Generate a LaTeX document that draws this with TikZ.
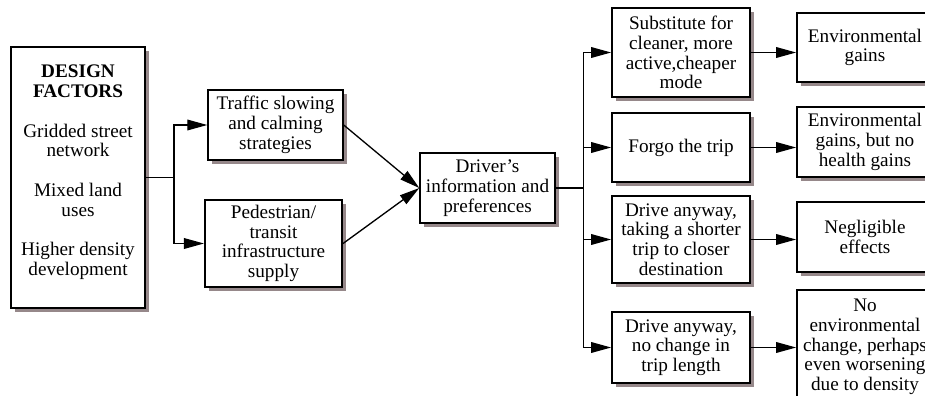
\documentclass[tikz,border=0pt]{standalone}
\usepackage{fontspec}
\setmainfont{Liberation Serif}
\usetikzlibrary{arrows.meta,shadows}
\definecolor{shade}{RGB}{150,136,138}

\begin{document}
\begin{tikzpicture}[x=0.75pt,y=-0.75pt,font=\fontsize{14.4}{14.8}\selectfont,
  blk/.style={draw=black,line width=1.3pt,fill=white,rectangle,align=center,inner sep=1pt,
    drop shadow={shadow xshift=3pt,shadow yshift=-3pt,fill=shade,opacity=1}},
  lnk/.style={line width=1pt,line cap=rect},
  arr/.style={line width=1pt,-{Triangle[length=15pt,width=8pt]}}]
\useasboundingbox (0,0) rectangle (925,396);
\clip (0,0) rectangle (925,396);

\node[blk,minimum width=100.5pt,minimum height=196pt] (F) at (78,177.5) {\textbf{DESIGN}\\\textbf{FACTORS}\\[15pt]Gridded street\\network\\[15pt]Mixed land\\uses\\[15pt]Higher density\\development\\[-4pt]\mbox{}};

\node[blk,minimum width=101pt,minimum height=52.5pt] (T) at (275.5,125) {Traffic slowing\\and calming\\strategies};
\node[blk,minimum width=103pt,minimum height=65pt] (P) at (273.5,243.5) {Pedestrian/\\transit\\infrastructure\\supply};

\node[blk,minimum width=101pt,minimum height=52.5pt] (I) at (487.5,188) {Driver's\\information and\\preferences};

\node[blk,minimum width=103.5pt,minimum height=67pt] (S1) at (681,52.5) {Substitute for\\cleaner, more\\active,cheaper\\mode};
\node[blk,minimum width=103.5pt,minimum height=52pt] (S2) at (681,147.5) {Forgo the trip};
\node[blk,minimum width=103.5pt,minimum height=65pt] (S3) at (681,239.5) {Drive anyway,\\taking a shorter\\trip to closer\\destination};
\node[blk,minimum width=103.5pt,minimum height=53pt] (S4) at (681,347.5) {Drive anyway,\\no change in\\trip length};

\node[blk,minimum width=102pt,minimum height=52pt] (R1) at (865,47.5) {Environmental\\gains};
\node[blk,minimum width=102pt,minimum height=52.5pt] (R2) at (865,142) {Environmental\\gains, but no\\health gains};
\node[blk,minimum width=102pt,minimum height=52.5pt] (R3) at (865,237) {Negligible\\effects};
\node[blk,minimum width=102pt,minimum height=85.5pt] (R4) at (865,347) {No\\environmental\\change, perhaps\\even worsening\\due to density};

\draw[lnk] (F.east) -- ++(28,0) coordinate (f); %F
\draw[lnk] (f |- T.west) -- (f |- P.west);
\draw[arr] (f |- T.west) -- (T.west); %FT
\draw[arr] (f |- P.west) -- (P.west); %FP
\draw[arr] (T.east) -- (I.west); %TI
\draw[arr] (P.east) -- (I.west); %PI

\draw[lnk] (I.east) -- ++(28,0) coordinate (i); %I
\draw[lnk] (i |- S1.west) -- (i |- S4.west);
\draw[arr] (i |- S1.west) -- (S1.west); %I1
\draw[arr] (i |- S2.west) -- (S2.west); %I2
\draw[arr] (i |- S3.west) -- (S3.west); %I3
\draw[arr] (i |- S4.west) -- (S4.west); %I4

\draw[arr] (S1.east) -- (S1.east -| R1.west); %11
\draw[arr] (S2.east) -- (S2.east -| R2.west); %22
\draw[arr] (S3.east) -- (S3.east -| R3.west); %33
\draw[arr] (S4.east) -- (S4.east -| R4.west); %44

\end{tikzpicture}
\end{document}
